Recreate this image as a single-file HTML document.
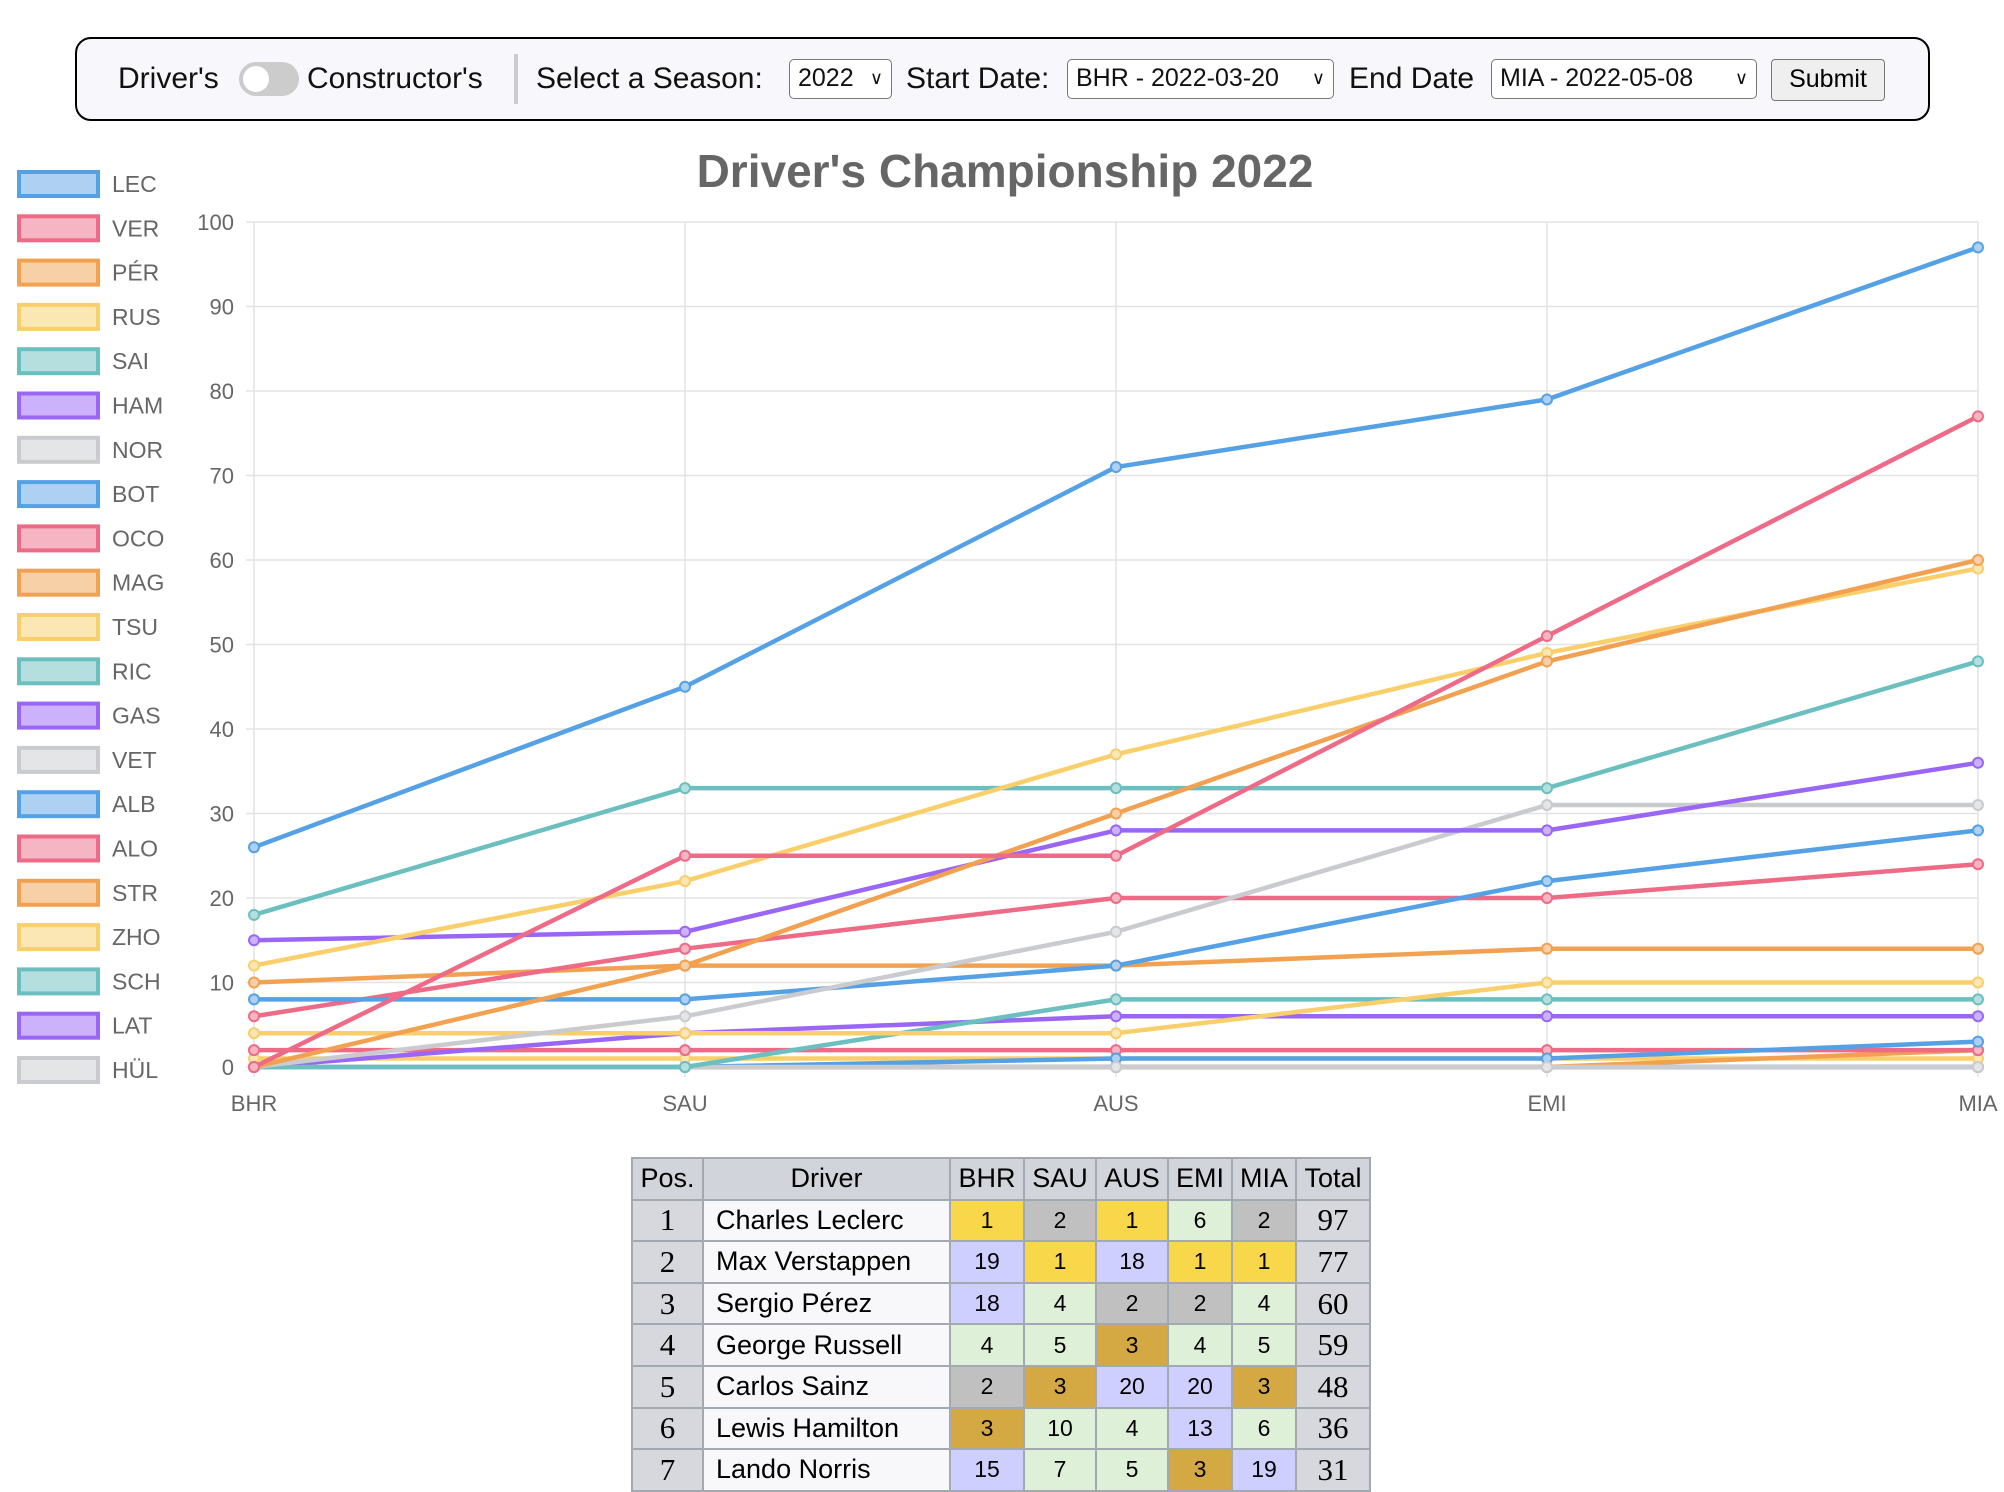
<!DOCTYPE html>
<html><head><meta charset="utf-8">
<style>
body{margin:0;width:2004px;height:1468px;overflow:hidden;background:#fff;font-family:"Liberation Sans",sans-serif;position:relative}
.nav{position:absolute;left:75px;top:37px;width:1855px;height:84px;border:2px solid #000;border-radius:16px;background:#f8f8fc;box-sizing:border-box}
.t{position:absolute;top:20px;font-size:30px;color:#111;line-height:40px}
.sel{position:absolute;top:20px;height:40px;border:1.5px solid #777;border-radius:5px;background:#fff;box-sizing:border-box;font-size:25px;line-height:37px;padding-left:8px;color:#111}
.sel span{position:absolute;right:8px;top:0;font-size:18px}
table{position:absolute;left:631px;top:1157px;border-collapse:collapse;font-size:27px}
tr{height:41.6px}
td,th{border:2px solid #a2a9b1;padding:0;text-align:center;font-weight:normal;box-sizing:border-box;height:41.6px}
th{background:#d1d4da}
td.p{background:#d6d8de;font-family:"Liberation Serif",serif;font-size:31px}
td.d{background:#f8f7f9;text-align:left;padding-left:12px}
td.n{font-size:23px}
.g{background:#f8d84a}.s{background:#c0c0c0}.b{background:#d4a843}.gr{background:#dff0d8}.pu{background:#cfcfff}
</style></head><body>
<div class="nav">
 <div class="t" style="left:41px">Driver's</div>
 <div style="position:absolute;left:162px;top:23px;width:60px;height:34px;border-radius:17px;background:#ccc"><div style="position:absolute;left:4px;top:4px;width:26px;height:26px;border-radius:13px;background:#fff"></div></div>
 <div class="t" style="left:230px">Constructor's</div>
 <div style="position:absolute;left:437px;top:15px;width:4px;height:50px;background:#ccc"></div>
 <div class="t" style="left:459px">Select a Season:</div>
 <div class="sel" style="left:712px;width:103px">2022<span>∨</span></div>
 <div class="t" style="left:829px">Start Date:</div>
 <div class="sel" style="left:990px;width:267px">BHR - 2022-03-20<span>∨</span></div>
 <div class="t" style="left:1272px">End Date</div>
 <div class="sel" style="left:1414px;width:266px">MIA - 2022-05-08<span>∨</span></div>
 <div style="position:absolute;left:1694px;top:20px;width:114px;height:42px;border:1.5px solid #777;border-radius:4px;background:#efefef;box-sizing:border-box;font-size:25px;text-align:center;line-height:39px">Submit</div>
</div>
<svg id="chart" width="2004" height="1150" style="position:absolute;left:0;top:0"></svg>
<table>
<tr><th style="width:71px">Pos.</th><th style="width:247px">Driver</th><th style="width:74px">BHR</th><th style="width:72px">SAU</th><th style="width:72px">AUS</th><th style="width:64px">EMI</th><th style="width:64px">MIA</th><th style="width:74px">Total</th></tr>
<tr><td class="p">1</td><td class="d">Charles Leclerc</td><td class="n g">1</td><td class="n s">2</td><td class="n g">1</td><td class="n gr">6</td><td class="n s">2</td><td class="p">97</td></tr>
<tr><td class="p">2</td><td class="d">Max Verstappen</td><td class="n pu">19</td><td class="n g">1</td><td class="n pu">18</td><td class="n g">1</td><td class="n g">1</td><td class="p">77</td></tr>
<tr><td class="p">3</td><td class="d">Sergio Pérez</td><td class="n pu">18</td><td class="n gr">4</td><td class="n s">2</td><td class="n s">2</td><td class="n gr">4</td><td class="p">60</td></tr>
<tr><td class="p">4</td><td class="d">George Russell</td><td class="n gr">4</td><td class="n gr">5</td><td class="n b">3</td><td class="n gr">4</td><td class="n gr">5</td><td class="p">59</td></tr>
<tr><td class="p">5</td><td class="d">Carlos Sainz</td><td class="n s">2</td><td class="n b">3</td><td class="n pu">20</td><td class="n pu">20</td><td class="n b">3</td><td class="p">48</td></tr>
<tr><td class="p">6</td><td class="d">Lewis Hamilton</td><td class="n b">3</td><td class="n gr">10</td><td class="n gr">4</td><td class="n pu">13</td><td class="n gr">6</td><td class="p">36</td></tr>
<tr><td class="p">7</td><td class="d">Lando Norris</td><td class="n pu">15</td><td class="n gr">7</td><td class="n gr">5</td><td class="n b">3</td><td class="n pu">19</td><td class="p">31</td></tr>
</table>
<script>
const races=["BHR","SAU","AUS","EMI","MIA"];
const yTicks=[0,10,20,30,40,50,60,70,80,90,100];
const drivers=["LEC","VER","PÉR","RUS","SAI","HAM","NOR","BOT","OCO","MAG","TSU","RIC","GAS","VET","ALB","ALO","STR","ZHO","SCH","LAT","HÜL"];
const LEC=[26,45,71,79,97];
const VER=[0,25,25,51,77];
const PER=[0,12,30,48,60];
const RUS=[12,22,37,49,59];
const SAI=[18,33,33,33,48];
const HAM=[15,16,28,28,36];
const NOR=[0,6,16,31,31];
const BOT=[8,8,12,22,28];
const OCO=[6,14,20,20,24];
const MAG=[10,12,12,14,14];
const TSU=[4,4,4,10,10];
const RIC=[0,0,8,8,8];
const GAS=[0,4,6,6,6];
const VET=[0,0,0,0,0];
const ALB=[0,0,1,1,3];
const ALO=[2,2,2,2,2];
const STR=[0,0,0,0,2];
const ZHO=[1,1,1,1,1];
const SCH=[0,0,0,0,0];
const LAT=[0,0,0,0,0];
const HUL=[0,0,0,0,0];
const series=[LEC,VER,PER,RUS,SAI,HAM,NOR,BOT,OCO,MAG,TSU,RIC,GAS,VET,ALB,ALO,STR,ZHO,SCH,LAT,HUL];
const cols=["#55a1e6","#ee6b87","#f2a151","#f8cf6a","#6cbfbf","#9a66f5","#c9cbcf"];
const fills=["#aed0f3","#f6b5c3","#f8d0a8","#fbe7b4","#b5dfdf","#ccb2fa","#e4e5e7"];
const NS="http://www.w3.org/2000/svg";
const svg=document.getElementById('chart');
const X0=254,X1=1978,Y0=1067,Y1=222;
const xs=i=>X0+(X1-X0)*i/(races.length-1);
const ys=v=>Y0-(Y0-Y1)*v/100;
function mk(t,a,txt){const e=document.createElementNS(NS,t);for(const k in a)e.setAttribute(k,a[k]);if(txt!==undefined)e.textContent=txt;svg.appendChild(e);return e;}
yTicks.forEach(v=>{
 const l=mk('line',{x1:X0-8,x2:X1,y1:ys(v),y2:ys(v),stroke:'#e3e3e3','stroke-width':1.5});
 
 
 const t=mk('text',{x:X0-20,y:ys(v)+8,'text-anchor':'end','font-size':22,fill:'#666','font-family':'Liberation Sans'},v);
 
 
});
races.forEach((r,i)=>{
 const l=mk('line',{x1:xs(i),x2:xs(i),y1:Y1,y2:Y0+10,stroke:'#e3e3e3','stroke-width':1.5});
 
 
 const t=mk('text',{x:xs(i),y:Y0+44,'text-anchor':'middle','font-size':22,fill:'#666','font-family':'Liberation Sans'},r);
 
 
});
const title=mk('text',{x:1005,y:187,'text-anchor':'middle','font-size':46,'font-weight':'bold',fill:'#666','font-family':'Liberation Sans'},"Driver's Championship 2022");


for(let k=series.length-1;k>=0;k--){
 const d=series[k],c=cols[k%7];
 const p=mk('polyline',{points:d.map((v,i)=>xs(i)+','+ys(v)).join(' '),fill:'none',stroke:c,'stroke-width':4.5,'stroke-linejoin':'round'});
 
 
 d.forEach((v,i)=>{
  const ci=mk('circle',{cx:xs(i),cy:ys(v),r:5,fill:fills[k%7],stroke:c,'stroke-width':2});
  
  
 });
}
drivers.forEach((n,k)=>{
 const y=184+k*44.3;
 const r=mk('rect',{x:19,y:y-12,width:79,height:24,fill:fills[k%7],stroke:cols[k%7],'stroke-width':4});
 
 
 const t=mk('text',{x:112,y:y+8,'font-size':23,fill:'#666','font-family':'Liberation Sans'},n);
 
 
});
</script>
</body></html>
